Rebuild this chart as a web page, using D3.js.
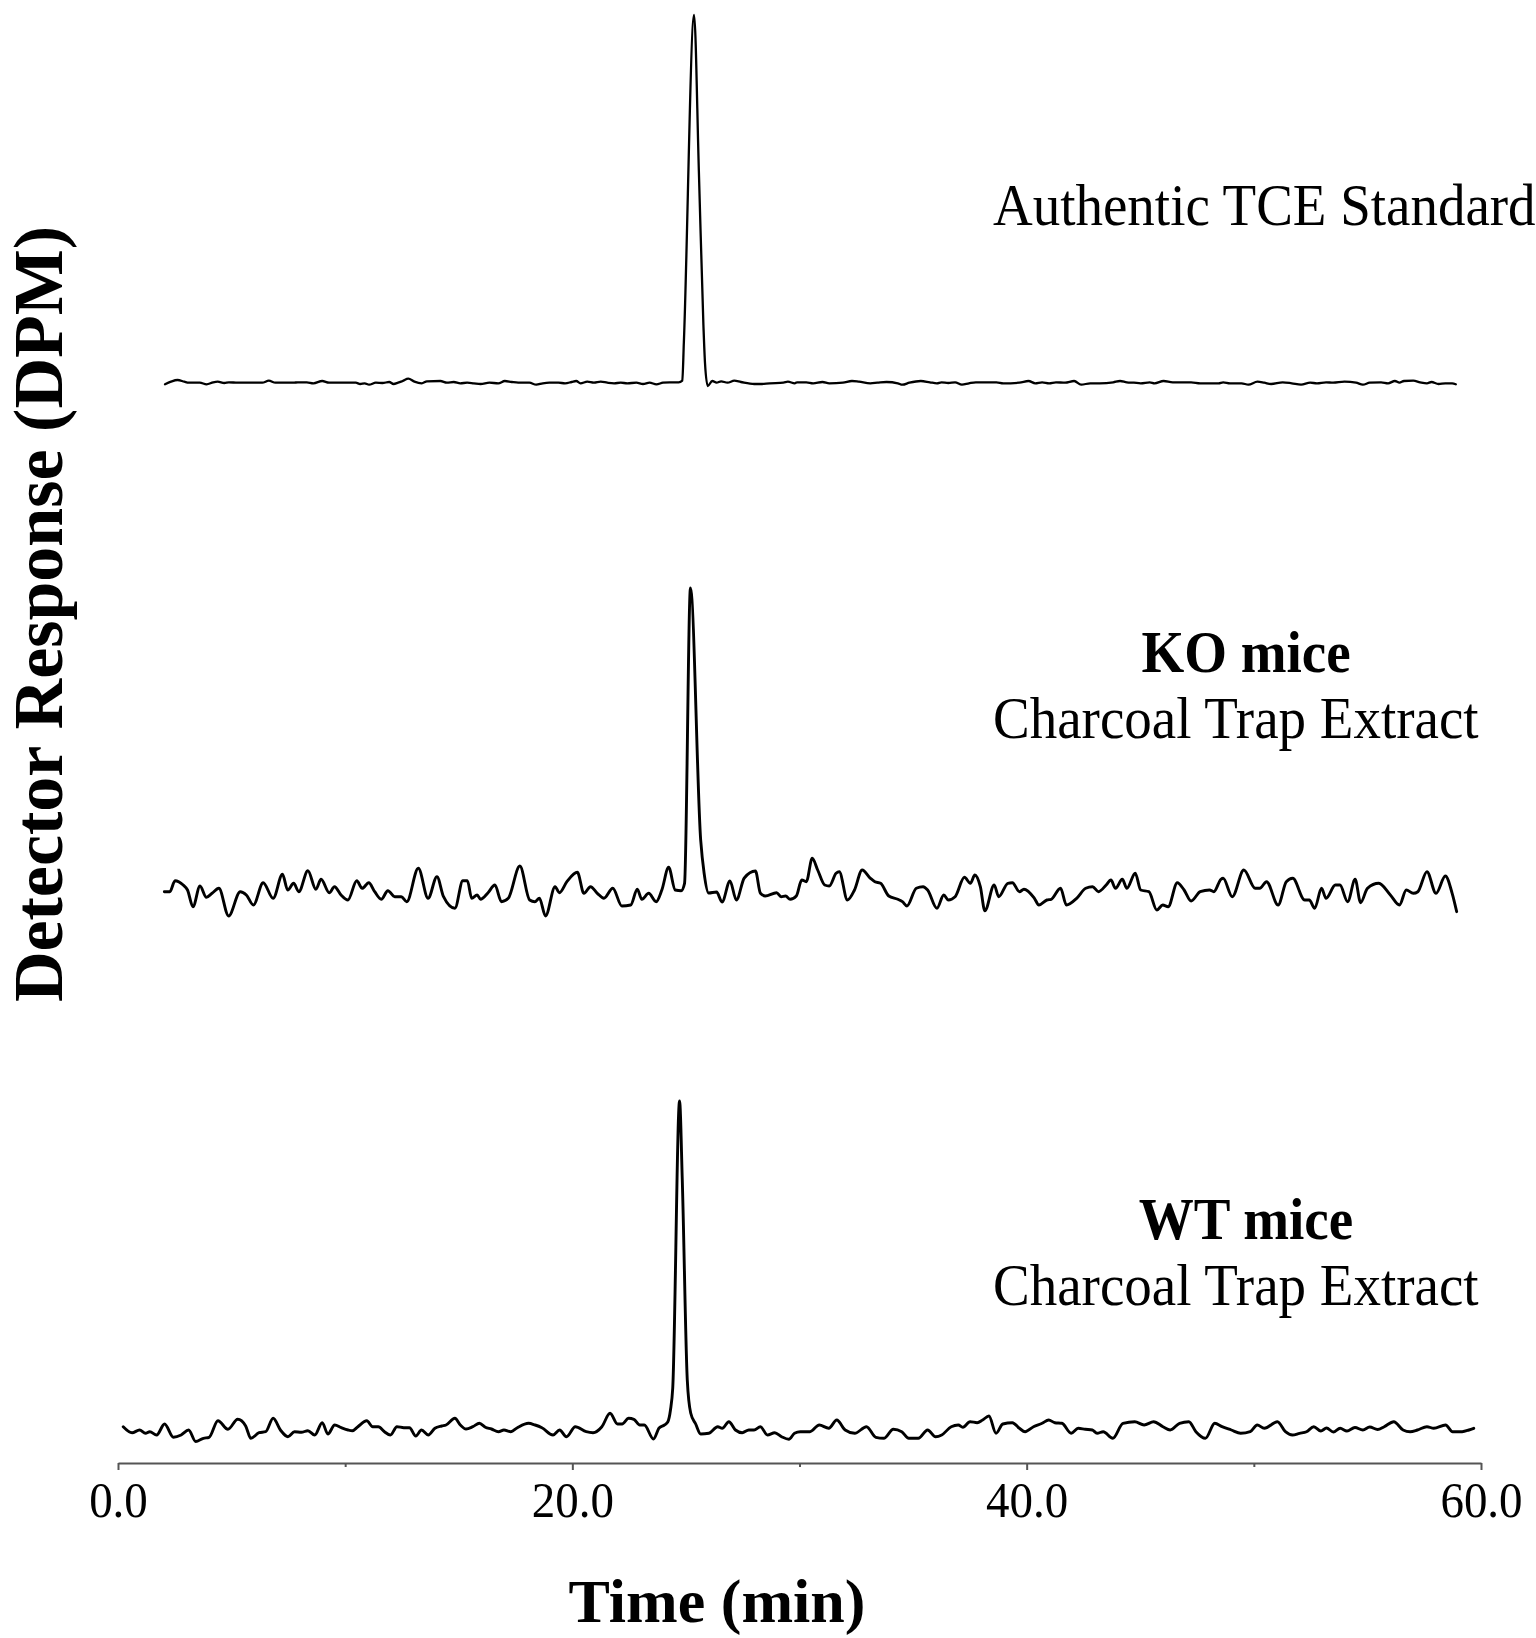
<!DOCTYPE html>
<html>
<head>
<meta charset="utf-8">
<script src="https://cdn.jsdelivr.net/npm/d3@7"></script>
<style>
  html, body { margin: 0; padding: 0; background: #fff; }
  svg { display: block; }
  text { font-family: "Liberation Serif", "Times New Roman", Times, serif; fill: #000; }
</style>
</head>
<body>
<svg id="chart" width="1536" height="1638"></svg>
<script>
// ---------------- DATA ----------------
// Time in minutes, detector response in arbitrary DPM units (offset per trace)
const stdTime = [2.07,2.33,2.62,2.92,3.11,3.60,3.90,4.19,4.39,4.68,4.88,5.27,6.35,6.64,6.93,7.72,7.92,8.31,8.60,8.99,9.29,10.47,10.66,10.86,11.05,11.35,11.64,11.94,12.13,12.33,12.53,12.78,13.05,13.37,13.60,14.19,14.48,14.78,15.07,15.37,15.66,15.96,16.35,16.74,17.03,17.33,17.62,18.11,18.41,18.70,18.99,19.39,19.68,19.97,20.17,20.36,20.66,20.95,21.25,21.54,21.84,22.13,22.42,22.82,23.11,23.40,23.70,23.99,24.29,24.68,24.84,
  24.91,25.36,25.57,25.77,25.84,25.96,26.16,26.35,26.55,26.83,27.13,27.42,28.01,
  28.28,28.69,29.29,29.49,29.79,29.89,30.30,30.60,31.01,31.31,31.91,32.31,32.62,33.12,33.43,33.83,34.33,34.53,34.84,35.34,35.74,36.05,36.25,36.55,36.85,37.15,37.46,37.76,38.67,38.97,39.68,40.08,40.38,40.68,40.99,41.29,41.69,42.09,42.40,42.80,43.21,43.81,44.11,44.41,44.72,45.02,45.42,45.63,46.03,46.43,47.24,47.64,48.45,48.65,48.95,49.46,49.76,50.16,50.46,50.76,51.27,51.67,52.08,52.48,52.78,53.18,53.49,53.99,54.50,54.80,55.10,55.60,55.91,56.21,56.41,56.61,57.02,57.32,57.62,57.82,58.13,58.43,58.73,58.89];
const stdSignal = [35.7,38.3,40,38.3,37.3,37.3,35.7,37.7,38.3,37,37.7,37.3,37.3,39.3,37.3,37.3,37.7,37.7,36.7,39,37.3,37.3,36,36.7,35.3,37.3,37,38,36,37.3,39,41.3,38.3,36.7,38.7,39,37.3,38,36.7,37.3,36.7,36,37.3,36.7,39,38,37.3,37.3,35.3,36.7,37.3,37.3,36.7,38,39,36.7,38.3,37.3,38.3,37.3,36.7,37.3,36.7,37.3,36,37.3,35.7,37.3,37.7,37.7,39.3,
  78,405,249,95,57,34,39,37.3,38.7,37.3,39.3,38,36,
  36,36.7,37.3,38.3,36.7,37.7,37.7,36.7,38,36.7,37.3,39,38.3,36.7,37.3,38,36.7,35.3,37.3,39,37.7,36.7,37.7,37,37.7,35.3,36.7,37.7,37.7,36.7,37.3,39,36.7,37.7,36.7,37.7,37.3,39,35.3,36.7,36.7,37.7,39,37.7,37.3,36.7,37.7,36.7,39,37.7,37.7,36.7,36.7,37.7,36.7,36.7,35.3,38.3,37.3,36,37.7,36.7,35.3,37.3,36.7,37.7,37.3,38.3,37.3,35.3,37.3,37.7,36.7,39,37.3,39,39.3,37.7,36.7,38,36,36.7,36.7,35.7];

const koTime = [2.04,2.28,2.51,2.87,3.06,3.30,3.61,3.89,4.14,4.44,4.87,5.38,5.65,5.96,6.39,6.83,7.24,7.47,7.73,7.96,8.36,8.71,8.94,9.30,9.53,9.82,10.12,10.51,10.75,11.04,11.30,11.59,11.88,12.18,12.47,12.71,13.22,13.65,14.04,14.33,14.83,15.18,15.38,15.57,15.81,15.96,16.29,16.59,16.88,17.18,17.69,18.12,18.35,18.55,18.82,19.24,19.43,19.76,20.22,20.51,20.80,21.10,21.39,21.78,22.18,22.57,22.86,23.06,23.36,23.69,23.94,24.24,24.53,24.79,24.94,
  25.20,25.65,25.80,26.00,26.35,26.59,26.94,27.22,27.57,28.06,
  28.28,28.49,28.99,29.19,29.39,29.59,29.86,30.10,30.30,30.56,30.80,31.11,31.31,31.61,31.75,32.11,32.42,32.76,33.12,33.32,33.57,33.93,34.33,34.53,34.73,35.14,35.44,35.64,36.05,36.35,36.55,36.85,37.26,37.52,37.72,37.96,38.16,38.57,38.77,39.17,39.37,39.68,39.88,40.34,40.54,40.89,41.08,41.49,41.75,42.20,42.60,42.90,43.16,43.50,43.71,43.91,44.21,44.41,44.78,45.02,45.38,45.73,45.99,46.23,46.63,46.93,47.24,47.64,48.05,48.24,48.55,48.65,49.05,49.56,50.06,50.26,50.56,51.07,51.43,51.71,52.24,52.44,52.68,52.98,53.18,53.59,53.79,54.13,54.46,54.70,55.00,55.50,56.01,56.41,56.71,57.02,57.22,57.62,58.02,58.43,58.73,58.93];
const koSignal = [38.3,38.3,49.3,45,40,23.3,44,32.7,36.7,41.7,14,38.3,35,25,47.3,31.7,55.7,40,46.7,38.3,59.3,40.7,50.7,37.3,43.3,35,30,49.3,41.7,47.3,38.3,30.7,39.3,33.3,33.3,28.3,61.7,31.7,53.3,33.3,21.7,49.3,49.3,31.7,35,30.7,37.3,45,28.3,31.7,64,30,28.3,31.7,14,43.3,37.3,48.3,57.7,36.7,43.3,36.7,31.7,41.7,24,25,40.7,30.7,36.7,28.3,40,62.7,40,39.3,46.7,
  342,90,57,37,38,28,49,30,52,59,
  36.7,34,37.3,33.3,34,30.7,34,50,48.3,71.7,60,45,44,56.7,58.3,30,40,60,51.7,48.3,46.7,34,30.7,28.3,24,41.7,43.3,40,21.7,35,30,33.3,52.7,46.7,55,43.3,19.3,45,33.3,46.7,47.3,38.3,40.7,31.7,25,30,30.7,41.7,25,31.7,41.7,43.3,38.3,45,50,41.7,50.7,41.7,56.7,40,38.3,20,25,23.3,47.3,40,29,38.3,40,38.3,50.7,51.7,33.3,60,41.7,41.7,48.3,25,48.3,51.7,30,30,21.7,41.7,31.7,45,45,28.3,50.7,27.3,41.7,46.7,35,25,40,36.7,38.3,58.3,36.7,54,36.7,18.3];

const wtTime = [0.23,0.62,0.95,1.21,1.40,1.70,2.05,2.44,2.78,3.11,3.42,3.76,4.01,4.40,4.84,5.27,5.62,5.85,6.21,6.50,6.83,7.15,7.48,7.77,8.07,8.36,8.66,8.99,9.24,9.54,9.83,10.13,10.32,10.56,10.95,11.21,11.46,11.73,11.99,12.28,12.58,12.83,13.11,13.36,13.66,13.95,14.25,14.44,14.83,15.07,15.32,15.62,15.91,16.17,16.44,16.75,16.99,17.29,17.58,18.07,18.36,18.66,19.15,19.44,19.74,20.13,20.61,20.91,21.30,21.66,21.99,22.19,22.48,22.71,22.97,23.17,23.57,23.82,24.05,24.20,24.32,24.42,
  24.72,24.84,25.06,25.21,25.43,25.65,26.01,26.40,26.60,26.89,27.18,27.48,27.77,28.00,
  28.28,28.59,28.91,29.21,29.53,29.78,30.04,30.46,30.87,31.29,31.64,32.01,32.43,32.95,33.36,33.71,34.13,34.50,34.81,35.23,35.64,35.99,36.26,36.68,36.99,37.19,37.51,37.82,38.06,38.34,38.65,38.95,39.37,39.68,39.93,40.30,40.68,40.97,41.24,41.55,41.96,42.27,42.58,42.89,43.10,43.37,43.79,44.24,44.76,45.17,45.59,46.00,46.32,46.73,47.14,47.45,47.87,48.28,48.60,49.01,49.42,49.84,50.15,50.46,51.04,51.39,51.70,52.01,52.32,52.64,52.95,53.20,53.50,53.80,54.10,54.45,54.80,55.10,55.45,55.74,56.16,56.57,56.88,57.20,57.62,57.92,58.44,58.75,59.17,59.47,59.68];
const wtSignal = [33.3,27.3,30,26.7,28.3,25,36,22.7,25,30,18.5,21.7,22.7,39.3,30.7,40.7,34,21.7,27.3,28.3,41.7,30,23.3,28.3,27.7,29.3,25,37.3,26,35,32.3,30,29.3,33.3,39.3,33.3,33.3,28.3,25,33.3,32.3,32.3,24,30,25,31.7,34,35,41.7,35,31,33.3,36.7,32.7,31,28.3,30,28.3,32.3,36.7,35,32.3,25,30,23.3,33.3,28.3,27.3,33.3,46.7,36,36,41.7,40.7,35,35,21,32,35,38,50,72,
  359,280,80,47,36,26,26.7,33.3,31.7,38.3,30,27.3,30,30,
  33.3,25,27.3,23.3,20.7,26.7,28.3,28.3,35,31.7,40,30,26.7,33.3,22.7,21.7,30.7,28.3,21.7,21.7,30,23.3,25,33.3,35,32.7,38.3,37.3,40,44,26.7,36,37.3,31.7,28.3,33.3,36.7,40,37.3,36.7,26.7,31.7,30.7,30,26.7,28.3,21.7,36.7,38.3,35,38.3,33.3,30,36.7,38.3,28.3,21.7,36.7,33.3,30,26.7,28.3,35,31.7,38.3,28.3,25,26.7,28.3,33.3,29,32,28,31.7,29,32.5,30,33,30.5,33.3,38.3,30,28.3,30,33.3,31.7,35,28.3,28.3,30,31.7];

const majorTicks = [0, 20, 40, 60];
const minorTicks = [10, 30, 50];
const tickLabels = ["0.0", "20.0", "40.0", "60.0"];
const traceNames = ["std", "ko", "wt"];
const titleLine1 = ["Authentic TCE Standard", "KO mice", "WT mice"];
const titleLine2 = ["", "Charcoal Trap Extract", "Charcoal Trap Extract"];
const xTitle = "Time (min)";
const yTitle = "Detector Response (DPM)";

// ---------------- DRAWING ----------------
const svg = d3.select("#chart");
svg.append("rect").attr("width", 1536).attr("height", 1638).attr("fill", "#fff");

const x = d3.scaleLinear().domain([0, 60]).range([118, 1481]);

// each trace has its own vertical band (stacked chromatograms)
const panels = [
  { time: stdTime, signal: stdSignal, floor: 420, width: 2.3 },
  { time: koTime,  signal: koSignal,  floor: 930, width: 2.9 },
  { time: wtTime,  signal: wtSignal,  floor: 1460, width: 2.9 }
];

panels.forEach((p, i) => {
  const y = d3.scaleLinear().domain([0, 420]).range([p.floor, p.floor - 420]);
  const pts = p.time.map((t, k) => [t, p.signal[k]]);
  const line = d3.line().x(d => x(d[0])).y(d => y(d[1])).curve(d3.curveMonotoneX);
  svg.append("path")
    .datum(pts)
    .attr("class", "trace-" + traceNames[i])
    .attr("fill", "none")
    .attr("stroke", "#000")
    .attr("stroke-width", p.width)
    .attr("stroke-linejoin", "round")
    .attr("stroke-linecap", "round")
    .attr("d", line);
});

// x axis
const axisY = 1463;
const axisG = svg.append("g").attr("transform", `translate(0,${axisY})`);
axisG.call(d3.axisBottom(x).tickValues(majorTicks).tickSize(7).tickSizeOuter(0)
  .tickFormat((d, i) => tickLabels[i]));
const minorG = svg.append("g").attr("transform", `translate(0,${axisY})`);
minorG.call(d3.axisBottom(x).tickValues(minorTicks).tickSize(4).tickSizeOuter(0).tickFormat(""));
minorG.select(".domain").remove();
svg.selectAll(".domain").attr("stroke", "#555").attr("stroke-width", 2);
svg.selectAll(".tick line").attr("stroke", "#555").attr("stroke-width", 2);
axisG.selectAll(".tick text")
  .attr("y", 0)
  .attr("dy", 0)
  .attr("transform", "translate(0,54) scale(1,1.1)")
  .attr("font-family", "'Liberation Serif', 'Times New Roman', serif")
  .attr("font-size", 47)
  .attr("fill", "#000");

// axis titles
svg.append("text")
  .attr("x", 717).attr("y", 1622)
  .attr("text-anchor", "middle")
  .attr("font-weight", "bold")
  .attr("font-size", 62)
  .text(xTitle);

svg.append("text")
  .attr("transform", "translate(62,614) rotate(-90)")
  .attr("text-anchor", "middle")
  .attr("font-weight", "bold")
  .attr("font-size", 70)
  .text(yTitle);

// trace annotations
function label(txt, px, py, anchor, bold) {
  svg.append("text")
    .attr("transform", `translate(${px},${py}) scale(1,1.06)`)
    .attr("text-anchor", anchor)
    .attr("font-size", 55)
    .attr("font-weight", bold ? "bold" : "normal")
    .text(txt);
}
label(titleLine1[0], 993, 225, "start", false);
label(titleLine1[1], 1246, 672, "middle", true);
label(titleLine2[1], 993, 738, "start", false);
label(titleLine1[2], 1246, 1239, "middle", true);
label(titleLine2[2], 993, 1305, "start", false);
</script>
</body>
</html>
